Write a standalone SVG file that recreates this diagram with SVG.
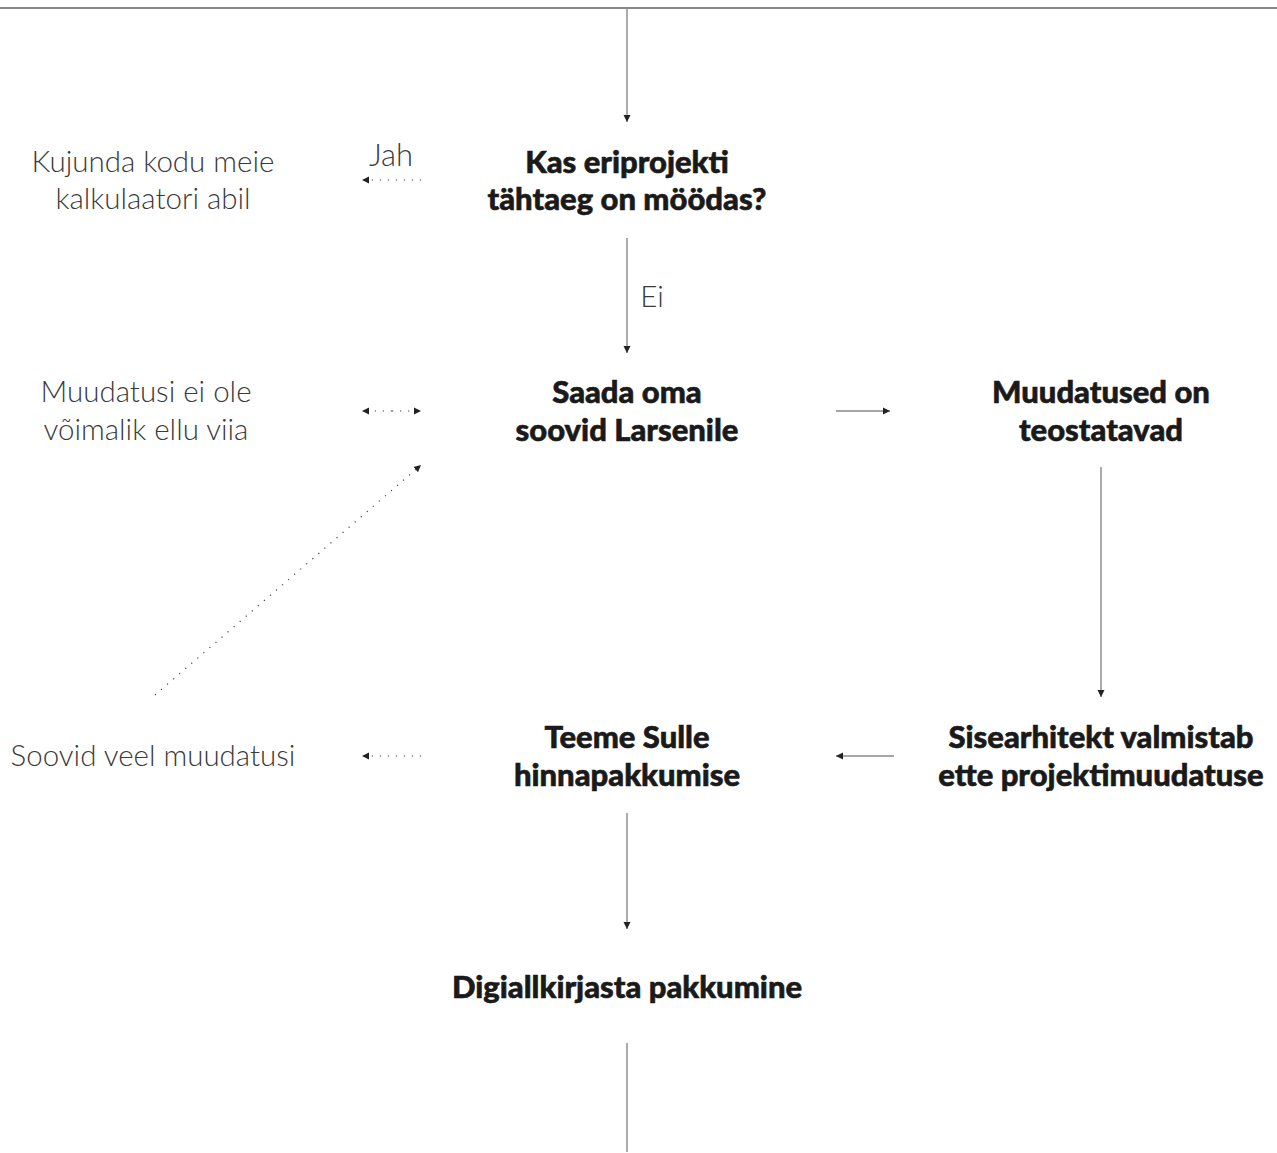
<svg xmlns="http://www.w3.org/2000/svg" width="1277" height="1153" viewBox="0 0 1277 1153">
<defs>
<style>
.h{font-family:"Lato Black",Lato,"Liberation Sans",sans-serif;font-weight:900;font-size:31px;fill:#1a1a1a;stroke:#1a1a1a;stroke-width:0.6;text-anchor:middle}
.l{font-family:"Lato Light",Lato,"Liberation Sans",sans-serif;font-weight:300;font-size:29.5px;fill:#3a3a3a;text-anchor:middle}
.s{stroke:#888;stroke-width:1.4;fill:none}
.d{stroke:#444;stroke-width:1.2;fill:none;stroke-dasharray:1.2 6.8}
</style>
<marker id="a" viewBox="0 0 8 8" refX="7" refY="4" markerWidth="8" markerHeight="8" markerUnits="userSpaceOnUse" orient="auto">
<path d="M0,0.5 L7,4 L0,7.5 z" fill="#222"/>
</marker>
</defs>
<rect width="1277" height="1153" fill="#fff"/>
<line x1="0" y1="8" x2="1277" y2="8" stroke="#888" stroke-width="2"/>
<g id="connectors">
<line class="s" x1="627" y1="8" x2="627" y2="122" marker-end="url(#a)"/>
<line class="d" x1="421" y1="180" x2="362" y2="180" marker-end="url(#a)"/>
<line class="s" x1="627" y1="238" x2="627" y2="353" marker-end="url(#a)"/>
<line class="d" x1="392" y1="411" x2="421" y2="411" marker-end="url(#a)"/>
<line class="d" x1="392" y1="411" x2="362" y2="411" marker-end="url(#a)"/>
<line class="s" x1="836" y1="411" x2="890" y2="411" marker-end="url(#a)"/>
<line class="d" x1="155" y1="695" x2="421" y2="465" marker-end="url(#a)"/>
<line class="s" x1="1101" y1="467" x2="1101" y2="697" marker-end="url(#a)"/>
<line class="s" x1="894" y1="756" x2="836" y2="756" marker-end="url(#a)"/>
<line class="d" x1="421" y1="756" x2="362" y2="756" marker-end="url(#a)"/>
<line class="s" x1="627" y1="813" x2="627" y2="929" marker-end="url(#a)"/>
<line class="s" x1="627" y1="1043" x2="627" y2="1152"/>
<text class="l" x="391" y="166" style="font-size:31px">Jah</text>
<text class="l" x="652" y="307">Ei</text>
</g>
<g id="n1"><text class="h" x="627" y="173">Kas eriprojekti</text><text class="h" x="627" y="210">tähtaeg on möödas?</text></g>
<g id="n2"><text class="l" x="153" y="172">Kujunda kodu meie</text><text class="l" x="153" y="209">kalkulaatori abil</text></g>
<g id="n3"><text class="h" x="627" y="403">Saada oma</text><text class="h" x="627" y="441">soovid Larsenile</text></g>
<g id="n4"><text class="l" x="146" y="402">Muudatusi ei ole</text><text class="l" x="146" y="440">võimalik ellu viia</text></g>
<g id="n5"><text class="h" x="1101" y="403">Muudatused on</text><text class="h" x="1101" y="441">teostatavad</text></g>
<g id="n6"><text class="h" x="1101" y="748">Sisearhitekt valmistab</text><text class="h" x="1101" y="786">ette projektimuudatuse</text></g>
<g id="n7"><text class="h" x="627" y="748">Teeme Sulle</text><text class="h" x="627" y="786">hinnapakkumise</text></g>
<g id="n8"><text class="l" x="153" y="766">Soovid veel muudatusi</text></g>
<g id="n9"><text class="h" x="627" y="998">Digiallkirjasta pakkumine</text></g>
</svg>
